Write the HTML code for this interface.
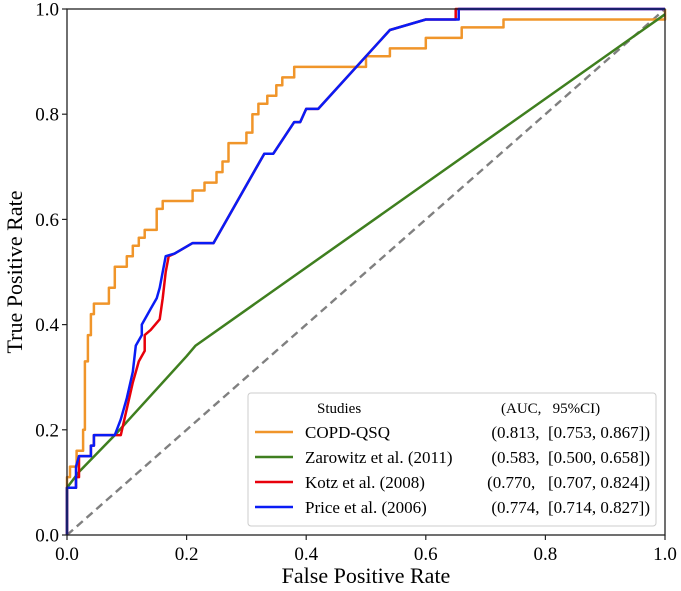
<!DOCTYPE html>
<html><head><meta charset="utf-8"><style>
body{margin:0;background:#fff;}
svg{display:block;font-family:"Liberation Serif",serif;}
</style></head><body>
<svg id="chart" width="681" height="591">
<g id="marks"></g>
<rect x="67" y="9" width="598" height="526" fill="none" stroke="#222" stroke-width="1.3"/>
<g id="ticks"></g>
<text x="366" y="583" text-anchor="middle" font-size="22">False Positive Rate</text>
<text transform="translate(22,272) rotate(-90)" text-anchor="middle" font-size="22">True Positive Rate</text>
<g>
<rect x="248" y="393" width="408" height="133" rx="3" fill="#fff" fill-opacity="0.85" stroke="#ccc"/>
<text x="317" y="413" font-size="15">Studies</text>
<text x="501" y="413" font-size="15" style="white-space:pre">(AUC,   95%CI)</text>
<g id="legend-entries"></g>
</g>
</svg>
<script>
const xTicks=[0,0.2,0.4,0.6,0.8,1.0];
const yTicks=[0,0.2,0.4,0.6,0.8,1.0];
const tickLabels=["0.0","0.2","0.4","0.6","0.8","1.0"];
const seriesNames=["COPD-QSQ","Zarowitz et al. (2011)","Kotz et al. (2008)","Price et al. (2006)"];
const seriesAUC=["(0.813,  [0.753, 0.867])","(0.583,  [0.500, 0.658])","(0.770,   [0.707, 0.824])","(0.774,  [0.714, 0.827])"];
const seriesColors=["#f0952a","#3f7f1f","#e8000b","#0a1cf5"];
const copdFPR=[0,0,0.005,0.005,0.016,0.016,0.027,0.027,0.03,0.03,0.035,0.035,0.04,0.04,0.045,0.045,0.07,0.07,0.08,0.08,0.1,0.1,0.11,0.11,0.12,0.12,0.13,0.13,0.15,0.15,0.16,0.16,0.21,0.21,0.23,0.23,0.25,0.25,0.26,0.26,0.27,0.27,0.3,0.3,0.31,0.31,0.32,0.32,0.335,0.335,0.35,0.35,0.36,0.36,0.38,0.38,0.5,0.5,0.54,0.54,0.6,0.6,0.66,0.66,0.73,0.73,1.0,1.0];
const copdTPR=[0,0.11,0.11,0.13,0.13,0.16,0.16,0.2,0.2,0.33,0.33,0.38,0.38,0.42,0.42,0.44,0.44,0.47,0.47,0.51,0.51,0.53,0.53,0.55,0.55,0.565,0.565,0.58,0.58,0.62,0.62,0.635,0.635,0.655,0.655,0.67,0.67,0.69,0.69,0.71,0.71,0.745,0.745,0.765,0.765,0.8,0.8,0.82,0.82,0.835,0.835,0.855,0.855,0.87,0.87,0.89,0.89,0.91,0.91,0.925,0.925,0.945,0.945,0.965,0.965,0.98,0.98,1.0];
const zarFPR=[0,0,0.02,0.08,0.2,0.215,1.0];
const zarTPR=[0,0.09,0.12,0.19,0.34,0.36,0.99];
const kotzFPR=[0,0,0.015,0.015,0.02,0.02,0.04,0.04,0.045,0.045,0.08,0.09,0.1,0.11,0.12,0.13,0.13,0.14,0.155,0.16,0.165,0.17,0.18,0.21,0.245,0.33,0.345,0.38,0.39,0.4,0.42,0.54,0.6,0.65,0.65,1.0];
const kotzTPR=[0,0.09,0.09,0.11,0.11,0.15,0.15,0.17,0.17,0.19,0.19,0.19,0.24,0.29,0.33,0.35,0.38,0.39,0.41,0.45,0.5,0.53,0.535,0.555,0.555,0.725,0.725,0.785,0.785,0.81,0.81,0.96,0.98,0.98,1.0,1.0];
const priceFPR=[0,0,0.015,0.015,0.02,0.04,0.04,0.045,0.045,0.08,0.09,0.1,0.11,0.115,0.125,0.125,0.135,0.14,0.15,0.155,0.16,0.165,0.18,0.21,0.245,0.33,0.345,0.38,0.39,0.4,0.42,0.54,0.6,0.655,0.655,1.0];
const priceTPR=[0,0.09,0.09,0.13,0.15,0.15,0.17,0.17,0.19,0.19,0.22,0.26,0.31,0.36,0.38,0.4,0.42,0.43,0.45,0.47,0.5,0.53,0.535,0.555,0.555,0.725,0.725,0.785,0.785,0.81,0.81,0.96,0.98,0.98,1.0,1.0];
const NS="http://www.w3.org/2000/svg";
const sx=v=>67+v*598, sy=v=>535-v*526;
const marks=document.getElementById('marks'), ticks=document.getElementById('ticks'), leg=document.getElementById('legend-entries');
function mk(tag,attrs,parent){const e=document.createElementNS(NS,tag);for(const k in attrs)e.setAttribute(k,attrs[k]);parent.appendChild(e);return e;}
const diag=mk('line',{x1:sx(0),y1:sy(0),x2:sx(1),y2:sy(1),stroke:'#808080','stroke-width':2.4,'stroke-dasharray':'8,5'},marks);


const series=[[copdFPR,copdTPR],[zarFPR,zarTPR],[kotzFPR,kotzTPR],[priceFPR,priceTPR]];
const lineNames=['line-copd-qsq','line-zarowitz','line-kotz','line-price'];
series.forEach((s,i)=>{
  const pts=s[0].map((x,j)=>sx(x).toFixed(1)+','+sy(s[1][j]).toFixed(1)).join(' ');
  const p=mk('polyline',{points:pts,fill:'none',stroke:seriesColors[i],'stroke-width':2.5,'stroke-linejoin':'round'},marks);
  
  
  const y=432+i*25;
  const l=mk('line',{x1:255,y1:y,x2:293,y2:y,stroke:seriesColors[i],'stroke-width':2.5},leg);
  
  
  const t=mk('text',{x:305,y:y+6,'font-size':17},leg);t.textContent=seriesNames[i];
  
  
  const a=mk('text',{x:650,y:y+6,'font-size':17,'text-anchor':'end'},leg);a.textContent=seriesAUC[i];
  a.style.whiteSpace='pre';
  
  
});
xTicks.forEach((v,i)=>{
  mk('line',{x1:sx(v),y1:535,x2:sx(v),y2:540,stroke:'#222','stroke-width':1.2},ticks);
  const t=mk('text',{x:sx(v),y:560,'font-size':19,'text-anchor':'middle'},ticks);t.textContent=tickLabels[i];
  
  
});
yTicks.forEach((v,i)=>{
  mk('line',{x1:62,y1:sy(v),x2:67,y2:sy(v),stroke:'#222','stroke-width':1.2},ticks);
  const t=mk('text',{x:59,y:sy(v)+6.5,'font-size':19,'text-anchor':'end'},ticks);t.textContent=tickLabels[i];
  
  
});
</script>
</body></html>
